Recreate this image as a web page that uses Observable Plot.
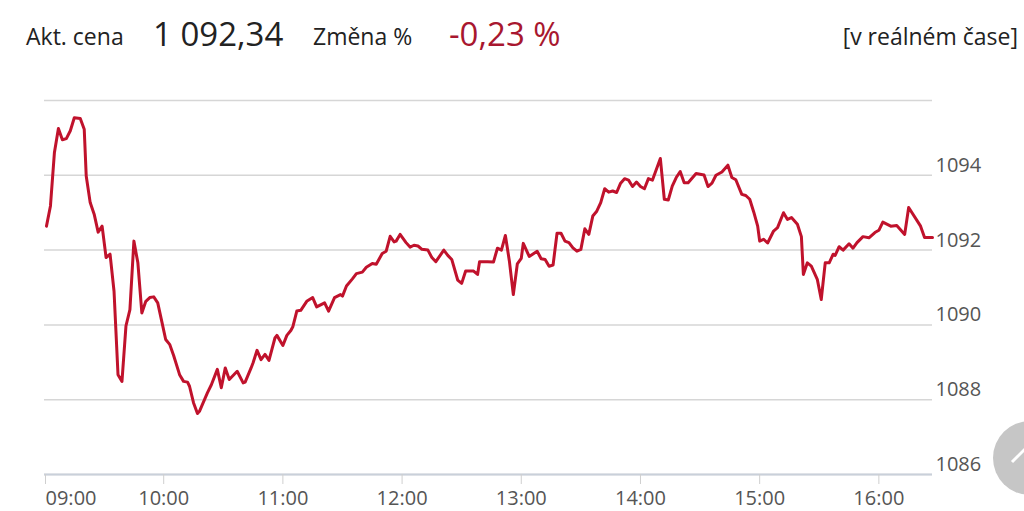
<!DOCTYPE html>
<html>
<head>
<meta charset="utf-8">
<script src="https://cdn.jsdelivr.net/npm/d3@7"></script>
<script src="https://cdn.jsdelivr.net/npm/@observablehq/plot@0.6"></script>
<style>
  html, body { margin: 0; padding: 0; background: #fff; width: 1024px; height: 511px; overflow: hidden; font-family: "Open Sans", sans-serif; }
  #header { position: relative; height: 60px; width: 1024px; }
  #header div { position: absolute; line-height: 1; white-space: nowrap; color: #222; }
  #chart { position: relative; height: 451px; }
  #topbtn { position: absolute; left: 993px; top: 421px; width: 74px; height: 74px; border-radius: 50%; background: #c6c6c6; }
</style>
</head>
<body>
<div id="header">
  <div style="left:26px; top:25px; font-size:23px;">Akt. cena</div>
  <div style="left:153px; top:17px; font-size:33px;">1 092,34</div>
  <div style="left:313px; top:25px; font-size:23px;">Změna %</div>
  <div style="left:449px; top:17px; font-size:33px; color:#a8172f;">-0,23 %</div>
  <div style="right:6px; top:25px; font-size:23px;">[v reálném čase]</div>
</div>
<div id="chart"></div>
<div id="topbtn"><svg width="74" height="74"><polyline points="19,41 37,23 55,41" fill="none" stroke="#fff" stroke-width="3"/></svg></div>
<script>
const times = ["09:01","09:03","09:05","09:07","09:09","09:11","09:13","09:15","09:18","09:20","09:21","09:23","09:25","09:27","09:29","09:31","09:33","09:35","09:37","09:39","09:41","09:43","09:45","09:47","09:49","09:51","09:53","09:55","09:57","09:59","10:01","10:03","10:05","10:08","10:10","10:12","10:13","10:15","10:17","10:18","10:22","10:24","10:27","10:29","10:31","10:33","10:37","10:40","10:41","10:44","10:45","10:47","10:49","10:51","10:53","10:56","10:57","11:00","11:02","11:04","11:05","11:07","11:09","11:12","11:15","11:17","11:21","11:23","11:26","11:29","11:30","11:32","11:35","11:37","11:40","11:42","11:45","11:47","11:50","11:52","11:54","11:56","11:57","11:59","12:02","12:04","12:06","12:08","12:10","12:13","12:15","12:17","12:21","12:23","12:25","12:28","12:30","12:32","12:36","12:38","12:39","12:43","12:46","12:48","12:50","12:52","12:54","12:56","12:58","13:00","13:01","13:04","13:08","13:10","13:12","13:14","13:16","13:18","13:20","13:22","13:24","13:26","13:28","13:30","13:32","13:34","13:36","13:38","13:40","13:42","13:44","13:46","13:48","13:50","13:52","13:54","13:56","13:58","14:00","14:02","14:04","14:06","14:10","14:12","14:14","14:16","14:18","14:20","14:22","14:24","14:28","14:30","14:32","14:34","14:36","14:38","14:41","14:44","14:46","14:48","14:51","14:53","14:55","14:57","14:59","15:00","15:02","15:04","15:07","15:09","15:12","15:14","15:16","15:19","15:21","15:22","15:24","15:26","15:29","15:31","15:33","15:35","15:37","15:38","15:40","15:42","15:45","15:47","15:49","15:52","15:55","15:58","16:00","16:02","16:06","16:09","16:13","16:15","16:21","16:23","16:27"];
const prices = [1092.64,1093.18,1094.61,1095.25,1094.95,1094.98,1095.19,1095.54,1095.52,1095.23,1093.98,1093.27,1092.96,1092.48,1092.64,1091.80,1091.89,1090.90,1088.67,1088.49,1089.97,1090.41,1092.24,1091.66,1090.32,1090.63,1090.73,1090.75,1090.59,1090.10,1089.61,1089.48,1089.18,1088.67,1088.49,1088.47,1088.36,1087.92,1087.63,1087.69,1088.18,1088.40,1088.81,1088.32,1088.85,1088.54,1088.76,1088.45,1088.47,1088.85,1088.99,1089.32,1089.07,1089.21,1089.05,1089.65,1089.72,1089.45,1089.72,1089.85,1089.95,1090.37,1090.39,1090.63,1090.73,1090.48,1090.59,1090.37,1090.73,1090.81,1090.77,1091.04,1091.23,1091.37,1091.41,1091.54,1091.64,1091.62,1091.91,1091.97,1092.37,1092.22,1092.24,1092.42,1092.20,1092.08,1092.13,1092.11,1092.02,1092.00,1091.80,1091.69,1092.00,1091.86,1091.75,1091.20,1091.11,1091.44,1091.44,1091.35,1091.69,1091.69,1091.68,1092.05,1092.00,1092.39,1091.71,1090.81,1091.63,1091.78,1092.18,1091.83,1091.97,1091.77,1091.75,1091.57,1091.60,1092.45,1092.45,1092.24,1092.20,1092.06,1091.97,1092.02,1092.57,1092.42,1092.91,1093.04,1093.27,1093.64,1093.55,1093.58,1093.54,1093.79,1093.91,1093.87,1093.70,1093.82,1093.70,1093.64,1093.91,1093.87,1094.45,1093.36,1093.34,1093.71,1093.94,1094.10,1093.80,1093.80,1094.05,1094.03,1094.01,1093.70,1093.79,1094.00,1094.09,1094.27,1093.94,1093.88,1093.49,1093.46,1093.36,1093.02,1092.64,1092.24,1092.29,1092.19,1092.51,1092.60,1093.00,1092.82,1092.87,1092.69,1092.36,1091.35,1091.66,1091.57,1091.22,1090.68,1091.66,1091.66,1091.89,1091.86,1092.09,1092.00,1092.17,1092.05,1092.20,1092.36,1092.33,1092.47,1092.53,1092.75,1092.64,1092.66,1092.42,1093.14,1092.64,1092.34,1092.34];
const hourTicks = ["09:00","10:00","11:00","12:00","13:00","14:00","15:00","16:00"];
const priceTicks = [1086, 1088, 1090, 1092, 1094, 1096];
const priceLabels = [1086, 1088, 1090, 1092, 1094];
const xDomain = ["09:00", "16:27"];

const parse = d3.utcParse("%H:%M");
const fmt = d3.utcFormat("%H:%M");
const data = times.map((t, i) => ({time: parse(t), price: prices[i]}));
const hours = hourTicks.map(parse);

const chart = Plot.plot({
  width: 1024,
  height: 451,
  marginLeft: 44,
  marginRight: 92,
  marginTop: 40,
  marginBottom: 37,
  style: {fontFamily: "'Open Sans', sans-serif", background: "transparent"},
  x: {type: "utc", domain: xDomain.map(parse), label: null},
  y: {domain: [1086, 1096], label: null},
  marks: [
    Plot.gridY(priceTicks, {stroke: "#d6d6d6", strokeOpacity: 1, strokeWidth: 1.5}),
    Plot.ruleY([1086], {stroke: "#c9d0da", strokeWidth: 2}),
    Plot.axisY(priceLabels, {anchor: "right", label: null, tickSize: 0, tickPadding: 3, textAnchor: "start", dy: -10, fontSize: 20, fill: "#555", tickFormat: d => String(d)}),
    Plot.axisX(hours.slice(1), {anchor: "bottom", label: null, tickSize: 10, tickPadding: 6, fontSize: 20, stroke: "#cfcfcf", fill: "#555", tickFormat: fmt}),
    Plot.axisX(hours.slice(0, 1), {anchor: "bottom", label: null, tickSize: 10, tickPadding: 6, fontSize: 20, stroke: "#cfcfcf", fill: "#555", textAnchor: "start", dx: 1, tickFormat: fmt}),
    Plot.line(data, {x: "time", y: "price", stroke: "#c0122c", strokeWidth: 3, strokeLinejoin: "round"})
  ]
});
document.getElementById("chart").appendChild(chart);
</script>
</body>
</html>
